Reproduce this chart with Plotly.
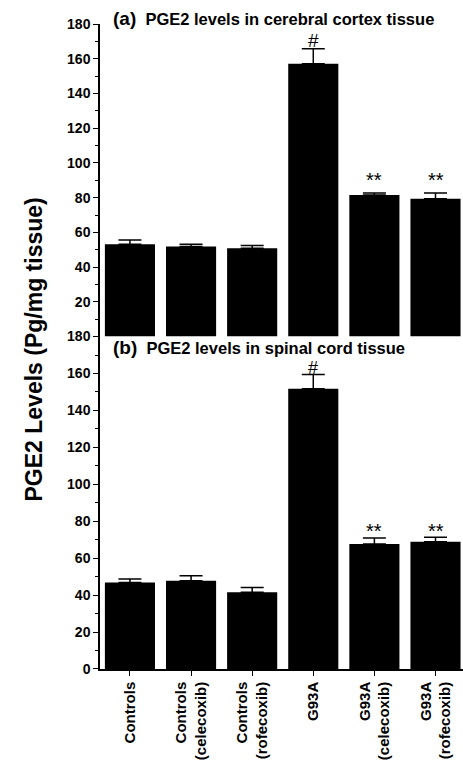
import plotly.graph_objects as go
from plotly.subplots import make_subplots

categories = ["Controls", "Controls<br>(celecoxib)", "Controls<br>(rofecoxib)",
              "G93A", "G93A<br>(celecoxib)", "G93A<br>(rofecoxib)"]
cortex_values = [53.1, 51.8, 50.9, 157.1, 81.5, 79.4]
cortex_errors = [2.5, 1.3, 1.5, 8.6, 1.2, 3.3]
spinal_values = [46.9, 47.8, 41.5, 151.7, 67.7, 68.9]
spinal_errors = [1.8, 2.7, 2.6, 7.7, 3.3, 2.5]
yticks_a = [20, 40, 60, 80, 100, 120, 140, 160, 180]
yticks_b = [0, 20, 40, 60, 80, 100, 120, 140, 160, 180]

FONT = "Liberation Sans, Arial, sans-serif"

fig = make_subplots(rows=2, cols=1, shared_xaxes=True, vertical_spacing=0,
                    row_heights=[315, 335])

xs = list(range(len(categories)))
for row, vals, errs in [(1, cortex_values, cortex_errors), (2, spinal_values, spinal_errors)]:
    fig.add_trace(go.Bar(
        x=xs, y=vals, marker=dict(color="black", line=dict(width=0)),
        error_y=dict(type="data", array=errs, symmetric=False,
                     arrayminus=[0] * len(errs), color="black", thickness=1.5, width=11.5),
        showlegend=False), row=row, col=1)

fig.update_layout(
    width=463, height=760,
    margin=dict(l=100, r=0, t=24, b=86),
    plot_bgcolor="white", paper_bgcolor="white",
    bargap=0.18,
    font=dict(family=FONT, color="black"),
)

common_y = dict(range=[0, 180], showgrid=False, zeroline=False, showline=True,
                linecolor="black", linewidth=1.5, ticks="outside", ticklen=5,
                tickwidth=1.2, tickcolor="black",
                tickfont=dict(family=FONT, size=14, weight="bold", color="black"),
                minor=dict(ticks="outside", ticklen=3, tickwidth=1, tickcolor="black",
                           tickmode="linear", tick0=0, dtick=10))
fig.update_yaxes(**common_y, tickmode="array", tickvals=yticks_a, row=1, col=1)
fig.update_yaxes(**common_y, tickmode="array", tickvals=yticks_b, row=2, col=1)

fig.update_xaxes(range=[-0.49, 5.45], showgrid=False, zeroline=False, showline=False,
                 ticks="", showticklabels=False, row=1, col=1)
fig.update_xaxes(range=[-0.49, 5.45], showgrid=False, zeroline=False, showline=True,
                 linecolor="black", linewidth=1.5, ticks="outside", ticklen=5,
                 tickwidth=1.2, tickcolor="black", tickmode="array", tickvals=xs,
                 ticktext=categories, tickangle=-90,
                 tickfont=dict(family=FONT, size=15, weight="bold", color="black"),
                 row=2, col=1)

# titles
fig.add_annotation(xref="paper", yref="paper", x=0.03, y=(674 - 18) / 650,
                   xanchor="left", yanchor="middle", showarrow=False,
                   text="<span style='font-size:19px'>(a)</span>  PGE2 levels in cerebral cortex tissue",
                   font=dict(family=FONT, size=16.5, weight="bold", color="black"))
fig.add_annotation(xref="paper", yref="paper", x=0.03, y=(674 - 350) / 650,
                   xanchor="left", yanchor="middle", showarrow=False,
                   text="<span style='font-size:19px'>(b)</span>  PGE2 levels in spinal cord tissue",
                   font=dict(family=FONT, size=16.5, weight="bold", color="black"))

# significance markers
marks = [("x", "y", 3, 170.5, "#", 19), ("x", "y", 4, 90.3, "**", 20), ("x", "y", 5, 90.3, "**", 20),
         ("x2", "y2", 3, 163.0, "#", 18), ("x2", "y2", 4, 74.7, "**", 20), ("x2", "y2", 5, 74.7, "**", 20)]
for xr, yr, xv, yv, t, sz in marks:
    fig.add_annotation(xref=xr, yref=yr, x=xv, y=yv, text=t, showarrow=False,
                       yanchor="middle", font=dict(family=FONT, size=sz, color="black"))

# y-axis title
fig.add_annotation(xref="paper", yref="paper", x=-66 / 363, y=(674 - 352) / 650,
                   text="PGE2 Levels (Pg/mg tissue)", textangle=-90, showarrow=False,
                   xanchor="center", yanchor="middle",
                   font=dict(family=FONT, size=23, weight="bold", color="black"))

fig.write_html("out.html", config={"displayModeBar": False},
               post_script="document.body.style.margin='0px';document.body.style.overflow='hidden';")
